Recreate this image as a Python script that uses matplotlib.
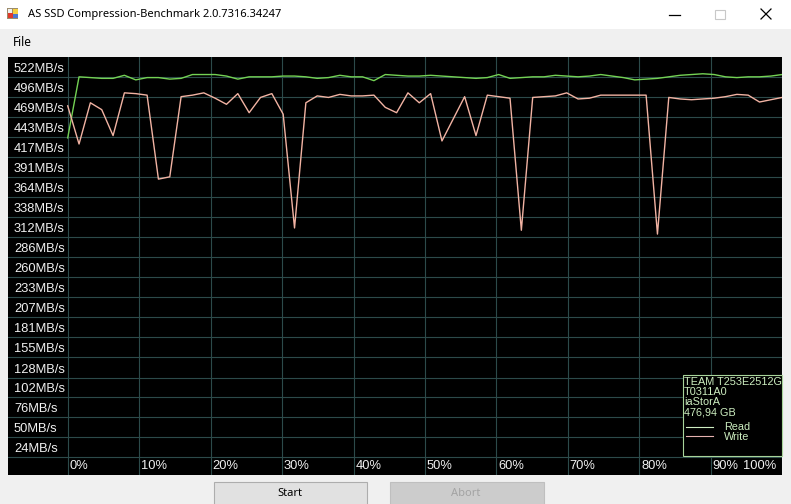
import numpy as np
import matplotlib
matplotlib.use("Agg")
import matplotlib.pyplot as plt
from matplotlib.patches import Rectangle
from matplotlib.lines import Line2D
from matplotlib.transforms import offset_copy, blended_transform_factory

# throughput samples (MB/s), evenly spaced from 0 to 100 %
read_mbs = [442, 522, 521, 520, 520, 524, 518, 521, 521, 519, 520, 525, 525, 525, 523, 519,
            522, 522, 522, 523, 523, 522, 520, 521, 524, 522, 522, 517, 525, 524, 523, 523,
            524, 523, 522, 521, 520, 521, 525, 520, 521, 522, 522, 524, 523, 522, 523, 525,
            523, 521, 518, 519, 520, 522, 524, 525, 526, 525, 522, 521, 522, 522, 523, 525]
write_mbs = [484, 434, 488, 479, 445, 501, 500, 498, 388, 391, 496, 498, 501, 494, 486, 500,
             475, 495, 500, 473, 324, 488, 497, 495, 499, 497, 497, 498, 482, 475, 501, 488,
             500, 438, 467, 496, 445, 498, 496, 494, 321, 495, 496, 497, 501, 493, 494, 498,
             498, 498, 498, 498, 316, 495, 493, 492, 493, 494, 496, 499, 498, 489, 492, 495]

y_ticks = [24, 50, 76, 102, 128, 155, 181, 207, 233, 260,
           286, 312, 338, 364, 391, 417, 443, 469, 496, 522]
y_labels = [f"{v}MB/s" for v in y_ticks]
x_ticks = [0, 10, 20, 30, 40, 50, 60, 70, 80, 90, 100]
x_labels = [f"{p}%" for p in x_ticks]

drive_info = ["TEAM T253E2512G", "T0311A0", "iaStorA", "476,94 GB"]
title = "AS SSD Compression-Benchmark 2.0.7316.34247"

W, H = 791, 504
READ_COLOR = "#74d254"
WRITE_COLOR = "#f2b3a3"
GRID_COLOR = "#2c4a4a"
LABEL_FONT = ["Liberation Sans", "DejaVu Sans"]
UI_FONT = ["Noto Sans", "DejaVu Sans"]

fig = plt.figure(figsize=(W / 100, H / 100), dpi=100)
fig.patch.set_facecolor("#f0f0f0")

# window chrome, drawn in pixel coordinates
bg = fig.add_axes([0, 0, 1, 1])
bg.set_xlim(0, W)
bg.set_ylim(H, 0)
bg.axis("off")
bg.add_patch(Rectangle((0, 0), W, 29, facecolor="white", edgecolor="none"))
bg.add_patch(Rectangle((7, 8), 11, 11, facecolor="#9c8c6c", edgecolor="none"))
bg.add_patch(Rectangle((8, 13), 5, 5, facecolor="#e03a2a", edgecolor="none"))
bg.add_patch(Rectangle((13, 9), 5, 5, facecolor="#f5d040", edgecolor="none"))
bg.add_patch(Rectangle((8, 9), 4, 4, facecolor="#f0f0f0", edgecolor="none"))
bg.add_patch(Rectangle((13, 14), 5, 4, facecolor="#4a78d0", edgecolor="none"))
bg.text(28, 15, title, fontsize=8.0, family=UI_FONT, color="black", va="center", ha="left")
bg.plot([669, 680], [14.5, 14.5], color="black", lw=0.9)
bg.add_patch(Rectangle((715, 9.5), 10, 9.5, facecolor="none", edgecolor="#c8c8c8", lw=0.8))
bg.plot([761, 771], [9, 19], color="black", lw=0.9)
bg.plot([761, 771], [19, 9], color="black", lw=0.9)
bg.text(13, 42, "File", fontsize=8.6, family=UI_FONT, color="black", va="center", ha="left")

# buttons
bg.add_patch(Rectangle((213.5, 482), 153, 30, facecolor="#e1e1e1", edgecolor="#adadad", lw=0.8))
bg.text(289.5, 494, "Start", fontsize=8, family=UI_FONT, color="black", va="center", ha="center")
bg.add_patch(Rectangle((389.5, 482), 154, 30, facecolor="#cccccc", edgecolor="#bfbfbf", lw=0.8))
bg.text(465.5, 494, "Abort", fontsize=8, family=UI_FONT, color="#a3a3a3", va="center", ha="center")

# chart panel
left, right, top, bottom = 7.5, 782.2, 57, 475.3
zero_px = 67.7
px_per_pct = (right - zero_px) / 100
ax = fig.add_axes([left / W, (H - bottom) / H, (right - left) / W, (bottom - top) / H])
ax.set_facecolor("black")
ax.set_xlim((left - zero_px) / px_per_pct, 100)
ax.set_ylim(0, (bottom - top) * 26.2 / 20)
for s in ax.spines.values():
    s.set_visible(False)
ax.set_xticks([])
ax.set_yticks([])

for v in y_ticks:
    ax.axhline(v, color=GRID_COLOR, lw=0.8, zorder=1)
for p in x_ticks:
    ax.axvline(p, color=GRID_COLOR, lw=0.8, zorder=1)

ylab_tr = offset_copy(blended_transform_factory(ax.transAxes, ax.transData), fig=fig, x=0, y=8, units="dots")
for v, lab in zip(y_ticks, y_labels):
    ax.text((14 - left) / (right - left), v, lab, transform=ylab_tr, fontsize=9.3, family=LABEL_FONT,
            color="#f0f0f0", va="center", ha="left")

xlab_tr = offset_copy(ax.transData, fig=fig, x=2, y=9, units="dots")
xlab_tr_last = offset_copy(ax.transData, fig=fig, x=-6, y=9, units="dots")
for p, lab in zip(x_ticks, x_labels):
    if p == 100:
        ax.text(p, 0, lab, transform=xlab_tr_last, fontsize=9.3, family=LABEL_FONT,
                color="#f0f0f0", va="center", ha="right")
    else:
        ax.text(p, 0, lab, transform=xlab_tr, fontsize=9.3, family=LABEL_FONT,
                color="#f0f0f0", va="center", ha="left")

progress = np.linspace(0, 100, len(read_mbs))
ax.plot(progress, read_mbs, color=READ_COLOR, lw=1.0, zorder=3)
ax.plot(progress, write_mbs, color=WRITE_COLOR, lw=1.0, zorder=3)

# drive info / legend box on top
ov = fig.add_axes([0, 0, 1, 1], zorder=5)
ov.set_xlim(0, W)
ov.set_ylim(H, 0)
ov.axis("off")
ov.patch.set_alpha(0)
ov.add_patch(Rectangle((682.5, 375), 99.5, 80.5, facecolor="black", edgecolor="#a8d49a", lw=0.8))
for i, line in enumerate(drive_info):
    ov.text(684, 382 + 10.1 * i, line, fontsize=7.8, family=LABEL_FONT, color="#cdeec0",
            va="center", ha="left")
ov.add_line(Line2D([686, 713], [426.7, 426.7], color="#cfeec4", lw=0.8))
ov.add_line(Line2D([686, 713], [436.3, 436.3], color="#e6b2b0", lw=0.8))
ov.text(724, 427, "Read", fontsize=7.8, family=LABEL_FONT, color="#cdeec0", va="center", ha="left")
ov.text(724, 436.8, "Write", fontsize=7.8, family=LABEL_FONT, color="#cdeec0", va="center", ha="left")

fig.savefig("out.png", dpi=100, facecolor=fig.get_facecolor())
